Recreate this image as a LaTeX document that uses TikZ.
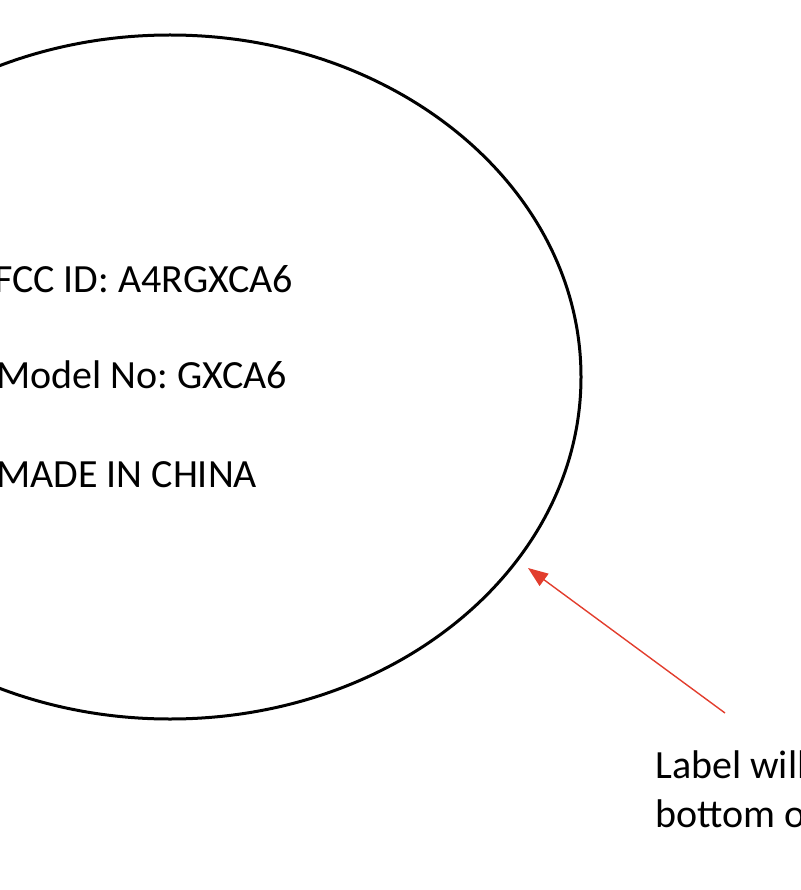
\documentclass[tikz,border=0pt]{standalone}
\usepackage{fontspec}
\setmainfont{Carlito}
\usetikzlibrary{arrows.meta}

\definecolor{notered}{RGB}{226,61,45}

\tikzset{
    tagtext/.style={anchor=base west, inner sep=0pt, font=\fontsize{40}{49}\selectfont\frenchspacing},
    pointer/.style={draw=notered, line width=1.4pt, -{Triangle[length=20pt,width=15pt]}, notered}
}

\begin{document}
\begin{tikzpicture}[x=1pt,y=1pt]
        \useasboundingbox (0,0) rectangle (800,-890);
        % label outline
        \draw[line width=3pt] (170,-377) ellipse (411 and 342);
        % printed lines
        \node[tagtext] (fcc) at (-6,-292) {FCC ID: A4RGXCA6};
        \node[tagtext] (model) at (-4,-388) {Model No: GXCA6};
        \node[tagtext] (made) at (-4,-487) {MADE IN CHINA};
        % note
        \node[tagtext] (note1) at (655,-778) {Label will};
        \node[tagtext] (note2) at (655,-827) {bottom o};
        \coordinate (tail) at (725,-713);
        \coordinate (tip) at (528,-568);
        \draw[pointer] (tail) -- (tip);
    \end{tikzpicture}
\end{document}
